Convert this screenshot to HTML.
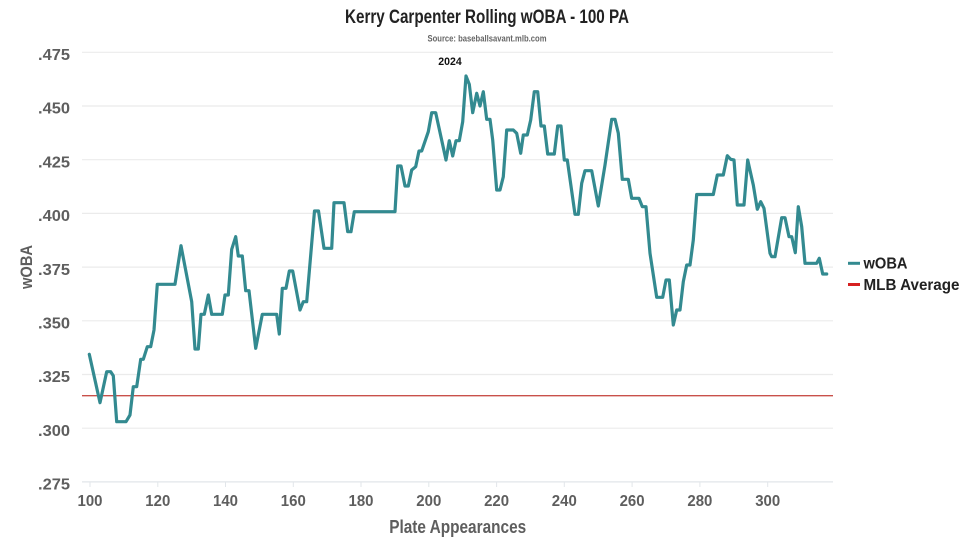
<!DOCTYPE html>
<html>
<head>
<meta charset="utf-8">
<style>
html,body{margin:0;padding:0;background:#fff;}
svg{display:block;}
text{font-family:"Liberation Sans Narrow","Liberation Sans",sans-serif;font-weight:bold;}
</style>
</head>
<body>
<svg width="975" height="548" viewBox="0 0 975 548" xmlns="http://www.w3.org/2000/svg">
<rect width="975" height="548" fill="#fff"/>
<!-- title -->
<text x="487" y="23" text-anchor="middle" font-size="19" fill="#222" textLength="284" lengthAdjust="spacingAndGlyphs">Kerry Carpenter Rolling wOBA - 100 PA</text>
<text x="487" y="41.5" text-anchor="middle" font-size="9.5" fill="#666" textLength="119" lengthAdjust="spacingAndGlyphs">Source: baseballsavant.mlb.com</text>

<!-- gridlines -->
<g stroke="#ebebeb" stroke-width="1.2">
<line x1="82" x2="833" y1="52.3" y2="52.3"/>
<line x1="82" x2="833" y1="106" y2="106"/>
<line x1="82" x2="833" y1="159.7" y2="159.7"/>
<line x1="82" x2="833" y1="213.4" y2="213.4"/>
<line x1="82" x2="833" y1="267.1" y2="267.1"/>
<line x1="82" x2="833" y1="320.8" y2="320.8"/>
<line x1="82" x2="833" y1="374.5" y2="374.5"/>
<line x1="82" x2="833" y1="428.2" y2="428.2"/>
</g>
<line x1="82" x2="833" y1="481.9" y2="481.9" stroke="#e2e6ea" stroke-width="1.2"/>
<g stroke="#e2e6ea" stroke-width="1">
<line x1="90" x2="90" y1="482" y2="487"/>
<line x1="157.8" x2="157.8" y1="482" y2="487"/>
<line x1="225.5" x2="225.5" y1="482" y2="487"/>
<line x1="293.3" x2="293.3" y1="482" y2="487"/>
<line x1="361" x2="361" y1="482" y2="487"/>
<line x1="428.8" x2="428.8" y1="482" y2="487"/>
<line x1="496.6" x2="496.6" y1="482" y2="487"/>
<line x1="564.3" x2="564.3" y1="482" y2="487"/>
<line x1="632.1" x2="632.1" y1="482" y2="487"/>
<line x1="699.9" x2="699.9" y1="482" y2="487"/>
<line x1="767.7" x2="767.7" y1="482" y2="487"/>
</g>

<!-- y labels -->
<g font-size="16" fill="#5e5e5e" text-anchor="end">
<text x="70" y="60" textLength="32" lengthAdjust="spacingAndGlyphs">.475</text>
<text x="70" y="113.7" textLength="32" lengthAdjust="spacingAndGlyphs">.450</text>
<text x="70" y="167.4" textLength="32" lengthAdjust="spacingAndGlyphs">.425</text>
<text x="70" y="221.1" textLength="32" lengthAdjust="spacingAndGlyphs">.400</text>
<text x="70" y="274.8" textLength="32" lengthAdjust="spacingAndGlyphs">.375</text>
<text x="70" y="328.5" textLength="32" lengthAdjust="spacingAndGlyphs">.350</text>
<text x="70" y="382.2" textLength="32" lengthAdjust="spacingAndGlyphs">.325</text>
<text x="70" y="435.9" textLength="32" lengthAdjust="spacingAndGlyphs">.300</text>
<text x="70" y="489.6" textLength="32" lengthAdjust="spacingAndGlyphs">.275</text>
</g>
<!-- x labels -->
<g font-size="16" fill="#5e5e5e" text-anchor="middle">
<text x="90" y="506" textLength="25" lengthAdjust="spacingAndGlyphs">100</text>
<text x="157.8" y="506" textLength="25" lengthAdjust="spacingAndGlyphs">120</text>
<text x="225.5" y="506" textLength="25" lengthAdjust="spacingAndGlyphs">140</text>
<text x="293.3" y="506" textLength="25" lengthAdjust="spacingAndGlyphs">160</text>
<text x="361" y="506" textLength="25" lengthAdjust="spacingAndGlyphs">180</text>
<text x="428.8" y="506" textLength="25" lengthAdjust="spacingAndGlyphs">200</text>
<text x="496.6" y="506" textLength="25" lengthAdjust="spacingAndGlyphs">220</text>
<text x="564.3" y="506" textLength="25" lengthAdjust="spacingAndGlyphs">240</text>
<text x="632.1" y="506" textLength="25" lengthAdjust="spacingAndGlyphs">260</text>
<text x="699.9" y="506" textLength="25" lengthAdjust="spacingAndGlyphs">280</text>
<text x="767.7" y="506" textLength="25" lengthAdjust="spacingAndGlyphs">300</text>
</g>
<!-- axis titles -->
<text x="457.7" y="533" text-anchor="middle" font-size="18" fill="#5e5e5e" textLength="137" lengthAdjust="spacingAndGlyphs">Plate Appearances</text>
<text transform="translate(32,267) rotate(-90)" x="0" y="0" text-anchor="middle" font-size="17" fill="#5e5e5e" textLength="44" lengthAdjust="spacingAndGlyphs">wOBA</text>

<!-- 2024 label -->
<text x="450" y="65" text-anchor="middle" font-size="11" fill="#111" textLength="23.4" lengthAdjust="spacingAndGlyphs">2024</text>

<!-- MLB average -->
<line x1="82" x2="833" y1="395.7" y2="395.7" stroke="#c9504a" stroke-width="1.3"/>

<!-- series -->
<polyline fill="none" stroke="#338a90" stroke-width="3.2" stroke-linejoin="round" stroke-linecap="round" points="
89.3,354.3 100,402.7 106.7,371.7 110.7,371.7 113.3,375.7 116.7,421.7 126,421.7 130,415 133.3,386.7 136.7,386.7
140.7,359.3 143.3,359.3 147.3,346.7 150.7,346.7 154,330 157.3,284.3 175,284.3 181,245.7 191.7,301.7 195,349
198.3,349 201,314.3 204.3,314.3 208.3,295 211.7,314.3 222.3,314.3 225,295 228.3,295 231.7,249.3 235.7,236.7
238.3,256 242.3,256 245.7,290.7 249,290.7 255.7,348.3 262.3,314.3 276.7,314.3 279.3,334 282.3,288.3 286,288.3
289.3,271 292.7,271 300,310 303.3,301.7 306.7,301.7 314.5,211 318.5,211 324,248.3 331.7,248.3
334,202.7 344,202.7 347.7,231.7 351,231.7 354.3,211.7 395,211.7 397.7,166 401,166 405,186 408.3,186
411.7,170 415.7,166.7 419,151 421.7,151 428.3,131.7 431.7,112.7 435.7,112.7 446,160 449.3,140.7 452.7,156
456,140.7 459.3,140.7 462.7,121.7 466,76 469.3,84.3 472.7,112.7 476.7,93.3 480,106 483.3,91.7 486.7,119.3
490,119.3 492.7,140 496.7,190 500,190 503.3,176.7 506.7,130 513.3,130 516.7,133.3 520.7,153.3 523.3,135
527.3,135 530.7,120 534.3,91.7 537.7,91.7 541,126 544.3,126 547.7,154 554.3,154 557.7,126 561,126
564.3,160 567.3,160 575,214.3 578.3,214.3 581.7,183.3 585,170.7 591.7,170.7 598.3,206 605,165 611.7,119.3
615,119.3 618.3,133.3 622.3,179.3 628.3,179.3 631.7,198.3 639,198.3 642.3,206.7 646,206.7 650,253.3 656.7,297.3
662.7,297.3 666,280 669.3,280 673.3,325 676.7,310 680,310 683.3,281.7 686.7,265 690,265 693.3,240
696.7,194.5 713.3,194.5 717.3,175 723.3,175 727.3,155.7 730.7,159.3 734,160 737.3,205 744,205 747.7,160
753.3,185 757.3,209.3 760.7,201.7 764,208.3 770,253.3 771.7,256.7 775,256.7 781.7,217.7 785,217.7 789,236.7
791.7,236.7 795.3,252.7 798.3,206.7 801.7,226.7 805,263.3 816.7,263.3 819.3,258.3 822.7,274 826.7,274"/>

<!-- legend -->
<line x1="848" x2="860" y1="263.3" y2="263.3" stroke="#338a90" stroke-width="3"/>
<text x="863.5" y="268.5" font-size="16" fill="#222" textLength="44" lengthAdjust="spacingAndGlyphs">wOBA</text>
<line x1="848" x2="860" y1="284.5" y2="284.5" stroke="#d62020" stroke-width="3"/>
<text x="863.5" y="290" font-size="16" fill="#222" textLength="96" lengthAdjust="spacingAndGlyphs">MLB Average</text>
</svg>
</body>
</html>
